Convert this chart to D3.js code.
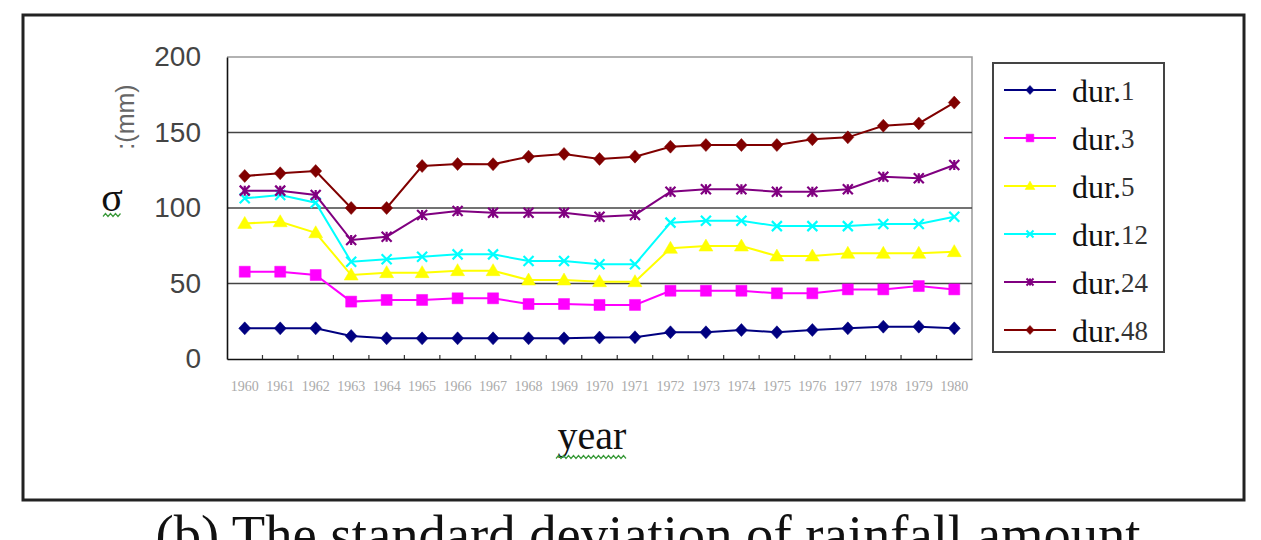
<!DOCTYPE html>
<html>
<head>
<meta charset="utf-8">
<script src="https://cdn.jsdelivr.net/npm/d3@7"></script>
<style>
  body { margin: 0; background: #fff; }
  svg { display: block; }
</style>
</head>
<body>
<script>
// values (standard deviation, mm)
var years = ["1960","1961","1962","1963","1964","1965","1966","1967","1968","1969","1970",
             "1971","1972","1973","1974","1975","1976","1977","1978","1979","1980"];
var yTicks = [0, 50, 100, 150, 200];

var dur1  = [20.3,20.3,20.3,15.2,13.7,13.7,13.7,13.7,13.7,13.7,14.2,14.4,17.7,17.7,19.2,17.7,19.2,20.3,21.4,21.4,20.3];
var dur3  = [57.8,57.8,55.6,38.0,39.1,39.1,40.2,40.2,36.4,36.4,35.8,35.8,45.2,45.2,45.2,43.5,43.5,46.1,46.1,48.3,46.1];
var dur5  = [89.8,90.9,83.6,55.6,57.2,57.2,58.5,58.5,52.3,52.3,51.2,51.2,73.3,74.8,74.8,68.2,68.2,70.0,70.0,70.0,71.1];
var dur12 = [106.4,108.6,103.5,64.4,66.0,67.7,69.3,69.3,64.9,64.9,62.7,62.7,90.3,91.6,91.6,88.0,88.0,88.0,89.4,89.4,94.2];
var dur24 = [111.5,111.5,108.6,78.8,81.0,95.4,98.0,96.9,96.9,96.9,94.2,95.4,110.8,112.4,112.4,110.8,110.8,112.4,120.7,119.7,128.5];
var dur48 = [121.2,123.0,124.5,100.0,100.0,127.8,129.1,129.0,134.0,135.8,132.5,134.0,140.6,141.7,141.7,141.7,145.5,146.8,154.5,156.0,169.8];

var seriesNames = ["dur.1","dur.3","dur.5","dur.12","dur.24","dur.48"];
var seriesData = [dur1, dur3, dur5, dur12, dur24, dur48];
var seriesColors = ["#000080","#ff00ff","#ffff00","#00ffff","#800080","#800000"];
var seriesMarkers = ["diamond","square","triangle","cross","star","diamond"];

var width = 1261, height = 540;

var svg = d3.select("body").append("svg")
    .attr("width", width)
    .attr("height", height);

// outer frame
svg.append("rect")
    .attr("x", 23).attr("y", 15)
    .attr("width", 1221).attr("height", 485)
    .attr("fill", "none")
    .attr("stroke", "#222")
    .attr("stroke-width", 3);

var plot = {left: 227, right: 972, top: 57, bottom: 359};

var x = d3.scaleBand()
    .domain(years)
    .range([plot.left, plot.right]);

var y = d3.scaleLinear()
    .domain([0, 200])
    .range([plot.bottom, plot.top]);

// plot border (top/right, light)
svg.append("path")
    .attr("d", "M" + plot.left + "," + plot.top + "H" + plot.right + "V" + plot.bottom)
    .attr("fill", "none")
    .attr("stroke", "#999")
    .attr("stroke-width", 1.5);

// gridlines
svg.append("g")
  .selectAll("line")
  .data(yTicks.filter(function(d){ return d > 0 && d < 200; }))
  .enter()
  .append("line")
    .attr("x1", plot.left).attr("x2", plot.right)
    .attr("y1", function(d){ return y(d); })
    .attr("y2", function(d){ return y(d); })
    .attr("stroke", "#444")
    .attr("stroke-width", 1.6);

// y axis
var yAxis = svg.append("g")
    .attr("transform", "translate(" + plot.left + ",0)")
    .call(d3.axisLeft(y).tickValues(yTicks).tickSize(0).tickPadding(26));
yAxis.select(".domain").attr("stroke", "#111").attr("stroke-width", 1.6);
yAxis.selectAll("text")
    .attr("font-family", "Liberation Sans, Arial, sans-serif")
    .attr("font-size", 28)
    .attr("fill", "#444");

// x axis, ticks between categories pointing up
var xAxis = svg.append("g")
    .attr("transform", "translate(0," + plot.bottom + ")")
    .call(d3.axisBottom(x).tickSize(0).tickPadding(22));
xAxis.select(".domain").attr("stroke", "#111").attr("stroke-width", 1.6);
xAxis.selectAll("text")
    .attr("font-family", "Liberation Serif, Times New Roman, serif")
    .attr("font-size", 14)
    .attr("fill", "#aaa");
xAxis.append("g")
  .selectAll("line")
  .data(years.slice(1))
  .enter()
  .append("line")
    .attr("x1", function(d){ return x(d); })
    .attr("x2", function(d){ return x(d); })
    .attr("y1", 0).attr("y2", -4)
    .attr("stroke", "#333")
    .attr("stroke-width", 1.2);

// marker shapes in pixel units
function markerPath(kind, s) {
  var p = d3.path();
  if (kind == "diamond") {
    p.moveTo(0, -6.5*s); p.lineTo(6*s, 0); p.lineTo(0, 6.5*s); p.lineTo(-6*s, 0); p.closePath();
  } else if (kind == "square") {
    p.rect(-5.5*s, -5.5*s, 11*s, 11*s);
  } else if (kind == "triangle") {
    p.moveTo(0, -7*s); p.lineTo(7*s, 5*s); p.lineTo(-7*s, 5*s); p.closePath();
  } else if (kind == "cross") {
    p.moveTo(-5*s, -5*s); p.lineTo(5*s, 5*s);
    p.moveTo(5*s, -5*s); p.lineTo(-5*s, 5*s);
  } else if (kind == "star") {
    p.moveTo(-5*s, -5*s); p.lineTo(5*s, 5*s);
    p.moveTo(5*s, -5*s); p.lineTo(-5*s, 5*s);
    p.moveTo(0, -5*s); p.lineTo(0, 5*s);
  }
  return p.toString();
}
function isFilled(kind) { return kind != "cross" && kind != "star"; }

var line = d3.line()
    .x(function(d, i){ return x(years[i]) + x.bandwidth() / 2; })
    .y(function(d){ return y(d); });

seriesData.forEach(function(vals, k) {
  var g = svg.append("g");
  var col = seriesColors[k], kind = seriesMarkers[k];
  g.append("path")
    .attr("d", line(vals))
    .attr("fill", "none")
    .attr("stroke", col)
    .attr("stroke-width", 2);
  g.selectAll("path.mk")
    .data(vals)
    .enter()
    .append("path")
      .attr("class", "mk")
      .attr("transform", function(d, i){
        return "translate(" + (x(years[i]) + x.bandwidth() / 2) + "," + y(d) + ")";
      })
      .attr("d", markerPath(kind, 1))
      .attr("fill", isFilled(kind) ? col : "none")
      .attr("stroke", col)
      .attr("stroke-width", isFilled(kind) ? 0.5 : 2.2);
  if (kind == "star") {
    g.selectAll("circle")
      .data(vals)
      .enter()
      .append("circle")
        .attr("cx", function(d, i){ return x(years[i]) + x.bandwidth() / 2; })
        .attr("cy", function(d){ return y(d); })
        .attr("r", 2.2)
        .attr("fill", col);
  }
});

// legend
var legend = svg.append("g");
legend.append("rect")
    .attr("x", 993).attr("y", 63)
    .attr("width", 171).attr("height", 289)
    .attr("fill", "#fff")
    .attr("stroke", "#444")
    .attr("stroke-width", 2);

var item = legend.selectAll("g.item")
  .data(seriesNames)
  .enter()
  .append("g")
    .attr("class", "item")
    .attr("transform", function(d, i){ return "translate(0," + (90 + i * 48) + ")"; });

item.append("line")
    .attr("x1", 1004).attr("x2", 1056)
    .attr("y1", 0).attr("y2", 0)
    .attr("stroke", function(d, i){ return seriesColors[i]; })
    .attr("stroke-width", 2);
item.append("path")
    .attr("transform", "translate(1030,0)")
    .attr("d", function(d, i){ return markerPath(seriesMarkers[i], 0.7); })
    .attr("fill", function(d, i){ return isFilled(seriesMarkers[i]) ? seriesColors[i] : "none"; })
    .attr("stroke", function(d, i){ return seriesColors[i]; })
    .attr("stroke-width", function(d, i){ return isFilled(seriesMarkers[i]) ? 0.5 : 2; });

var label = item.append("text")
    .attr("x", 1072)
    .attr("y", 12)
    .attr("font-family", "Liberation Serif, Times New Roman, serif")
    .attr("font-size", 32)
    .attr("fill", "#111");
label.append("tspan").text("dur.");
label.append("tspan")
    .attr("dy", -2)
    .attr("font-size", 27)
    .attr("fill", "#333")
    .text(function(d){ return d.replace("dur.", ""); });

// axis titles
svg.append("text")
    .attr("x", 112).attr("y", 211)
    .attr("text-anchor", "middle")
    .attr("font-family", "Liberation Serif, Times New Roman, serif")
    .attr("font-size", 40)
    .attr("fill", "#111")
    .text("σ");
svg.append("text")
    .attr("transform", "translate(134,117) rotate(-90)")
    .attr("text-anchor", "middle")
    .attr("font-family", "Liberation Sans, Arial, sans-serif")
    .attr("font-size", 25)
    .attr("fill", "#666")
    .text(":(mm)");

svg.append("text")
    .attr("x", 592).attr("y", 449)
    .attr("text-anchor", "middle")
    .attr("font-family", "Liberation Serif, Times New Roman, serif")
    .attr("font-size", 40)
    .attr("fill", "#111")
    .text("year");

// spell-check squiggles under σ and "year"
function squiggle(x0, x1, yy) {
  var pts = d3.range(x0, x1 + 0.1, 2.5).map(function(px, i){ return [px, yy + (i % 2 ? -1.5 : 1.5)]; });
  svg.append("path")
    .attr("d", d3.line()(pts))
    .attr("fill", "none")
    .attr("stroke", "#3a9a3a")
    .attr("stroke-width", 1.2);
}
squiggle(103, 121, 215);
squiggle(556, 628, 457);

// caption below the frame (cut at the bottom edge, as in the source)
svg.append("text")
    .attr("x", 648).attr("y", 553)
    .attr("text-anchor", "middle")
    .attr("font-family", "Liberation Serif, Times New Roman, serif")
    .attr("font-size", 55)
    .attr("textLength", 985)
    .attr("lengthAdjust", "spacingAndGlyphs")
    .attr("fill", "#111")
    .text("(b) The standard deviation of rainfall amount");
</script>
</body>
</html>
